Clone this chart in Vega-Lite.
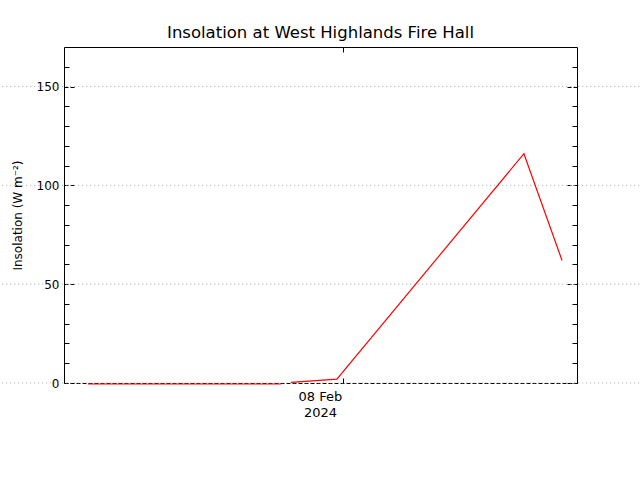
{
  "$schema": "https://vega.github.io/schema/vega-lite/v6.json",
  "autosize": {"type": "none"},
  "padding": {"left": 64, "top": 47, "right": 63, "bottom": 97},
  "width": 513,
  "height": 336,
  "background": "white",
  "title": {
    "text": "Insolation at West Highlands Fire Hall",
    "font": "DejaVu Sans",
    "fontSize": 16.5,
    "fontWeight": "normal",
    "color": "black",
    "anchor": "middle",
    "offset": 5
  },
  "datasets": {
    "obs": [
      {"time": "2024-02-07T12:04:00Z", "insolation": -0.5, "run": 1},
      {"time": "2024-02-07T21:06:00Z", "insolation": -0.5, "run": 1},
      {"time": "2024-02-07T21:34:00Z", "insolation": 0.3, "run": 2},
      {"time": "2024-02-07T23:43:00Z", "insolation": 2.0, "run": 2},
      {"time": "2024-02-08T08:28:00Z", "insolation": 116, "run": 2},
      {"time": "2024-02-08T10:15:00Z", "insolation": 62, "run": 2}
    ],
    "grid": [
      {"level": 0}, {"level": 50}, {"level": 100}, {"level": 150}
    ]
  },
  "layer": [
    {
      "data": {"name": "grid"},
      "mark": {"type": "rule", "clip": false, "color": "#aaaaaa", "strokeDash": [1, 3], "strokeWidth": 1},
      "encoding": {
        "y": {
          "field": "level", "type": "quantitative",
          "scale": {"domain": [0, 170], "nice": false, "zero": false},
          "axis": {"orient": "right", "values": [0, 50, 100, 150], "labels": false, "title": null, "grid": false, "tickSize": -10, "tickDash": [4, 2], "domain": true}
        },
        "x": {"datum": {"year": 2024, "month": 2, "date": 7, "hours": 6, "utc": true}, "type": "temporal", "axis": null},
        "x2": {"datum": {"year": 2024, "month": 2, "date": 8, "hours": 16, "utc": true}}
      }
    },
    {
      "data": {"name": "obs"},
      "mark": {"type": "line", "color": "#ff0000", "strokeWidth": 1.2},
      "encoding": {
        "x": {
          "field": "time", "type": "temporal",
          "scale": {"type": "utc", "nice": false,
            "domain": [{"year": 2024, "month": 2, "date": 7, "hours": 10, "minutes": 57, "utc": true},
                       {"year": 2024, "month": 2, "date": 8, "hours": 10, "minutes": 57, "utc": true}]},
          "axis": {
            "orient": "bottom", "title": null, "grid": false,
            "values": [{"year": 2024, "month": 2, "date": 8, "utc": true}],
            "labelExpr": "[utcFormat(datum.value, '%d %b'), utcFormat(datum.value, '%Y')]",
            "tickSize": -5, "labelPadding": 12, "labelOffset": -23, "labelLineHeight": 16,
            "labelFontSize": 13, "domainDash": [4, 2]
          }
        },
        "y": {
          "field": "insolation", "type": "quantitative",
          "axis": {"orient": "left", "values": [0, 50, 100, 150], "title": "Insolation (W m⁻²)", "grid": false,
            "tickSize": -10, "tickDash": [4, 2], "labelPadding": 15, "titlePadding": 12}
        },
        "detail": {"field": "run", "type": "nominal"}
      }
    },
    {
      "data": {"name": "obs"},
      "mark": {"type": "line", "opacity": 0},
      "encoding": {
        "x": {
          "field": "time", "type": "temporal",
          "axis": {"orient": "top", "title": null, "labels": false, "grid": false,
            "values": [{"year": 2024, "month": 2, "date": 8, "utc": true}], "tickSize": -5}
        },
        "y": {
          "field": "insolation", "type": "quantitative",
          "axis": {"orient": "left", "values": [10, 20, 30, 40, 60, 70, 80, 90, 110, 120, 130, 140, 160],
            "labels": false, "title": null, "grid": false, "domain": false, "tickSize": -5}
        }
      }
    },
    {
      "data": {"name": "obs"},
      "mark": {"type": "line", "opacity": 0},
      "encoding": {
        "x": {"field": "time", "type": "temporal", "axis": null},
        "y": {
          "field": "insolation", "type": "quantitative",
          "axis": {"orient": "right", "values": [10, 20, 30, 40, 60, 70, 80, 90, 110, 120, 130, 140, 160],
            "labels": false, "title": null, "grid": false, "domain": false, "tickSize": -5}
        }
      }
    }
  ],
  "resolve": {"axis": {"x": "independent", "y": "independent"}},
  "config": {
    "view": {"stroke": null},
    "axis": {
      "labelFont": "DejaVu Sans", "labelFontSize": 12, "labelColor": "black",
      "titleFont": "DejaVu Sans", "titleFontSize": 12, "titleFontWeight": "normal", "titleColor": "black",
      "domainColor": "black", "tickColor": "black", "domainWidth": 1, "tickWidth": 1, "zindex": 1
    }
  }
}
